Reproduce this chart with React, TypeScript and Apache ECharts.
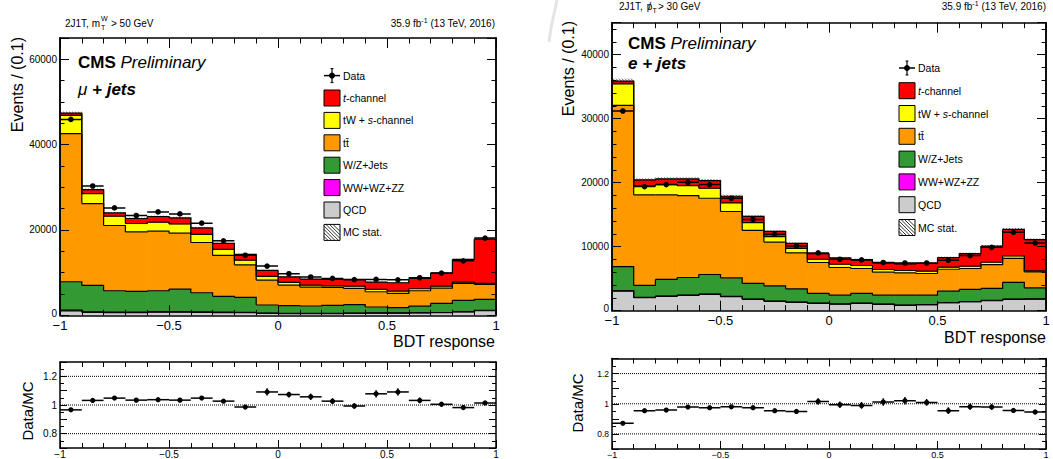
import { useEffect, useRef } from 'react';
import * as echarts from 'echarts';

const FONT = '"Liberation Sans", Arial, Helvetica, sans-serif';

// ---------- bins ----------
const binLow = [-1.0, -0.9, -0.8, -0.7, -0.6, -0.5, -0.4, -0.3, -0.2, -0.1, 0.0, 0.1, 0.2, 0.3, 0.4, 0.5, 0.6, 0.7, 0.8, 0.9];
const binHigh = [-0.9, -0.8, -0.7, -0.6, -0.5, -0.4, -0.3, -0.2, -0.1, 0.0, 0.1, 0.2, 0.3, 0.4, 0.5, 0.6, 0.7, 0.8, 0.9, 1.0];

// stack order bottom -> top
const processNames = ['QCD', 'WW+WZ+ZZ', 'W/Z+Jets', 'tt\u0304', 'tW + s-channel', 't-channel'];
const processColors = ['#cccccc', '#ff00ff', '#339933', '#ff9900', '#ffff00', '#ff0000'];

// ---------- mu + jets ----------
const muQCD = [1050, 700, 650, 650, 750, 750, 700, 650, 600, 450, 400, 400, 400, 450, 500, 500, 550, 600, 800, 1100];
const muVV = [150, 120, 110, 110, 110, 110, 100, 90, 80, 60, 50, 50, 50, 50, 50, 50, 50, 60, 60, 70];
const muWZ = [6660, 6200, 5000, 4850, 4900, 5290, 4490, 3700, 3530, 1900, 1800, 1730, 1890, 1990, 1390, 1230, 1570, 2150, 2650, 2570];
const muTT = [34710, 19180, 15290, 13940, 13960, 13100, 11780, 9590, 7630, 5850, 4840, 4440, 4210, 3820, 3580, 3370, 3580, 3580, 3980, 3510];
const muTW = [4280, 2340, 2180, 1970, 2100, 2180, 1880, 1410, 1090, 860, 630, 470, 370, 540, 560, 530, 470, 460, 300, 240];
const muTch = [540, 930, 770, 1170, 1340, 1400, 1540, 1400, 1340, 1410, 1310, 1400, 1500, 1570, 1710, 1950, 2430, 3040, 5310, 10360];
const muMCStat = [350, 250, 200, 200, 200, 200, 180, 160, 140, 120, 110, 100, 100, 100, 100, 100, 110, 120, 150, 200];
const muData = [45920, 30310, 25170, 23390, 24230, 23770, 21590, 17450, 14070, 11530, 9730, 8970, 8650, 8360, 8420, 8320, 8800, 9890, 12770, 18100];
const muRatio = [0.966, 1.032, 1.048, 1.034, 1.037, 1.034, 1.048, 1.027, 0.986, 1.091, 1.073, 1.057, 1.027, 0.993, 1.078, 1.091, 1.032, 1.005, 0.982, 1.014];
const muRatioErr = [0.005, 0.006, 0.006, 0.006, 0.006, 0.006, 0.007, 0.008, 0.01, 0.025, 0.02, 0.022, 0.02, 0.02, 0.025, 0.025, 0.02, 0.018, 0.015, 0.008];

// ---------- e + jets ----------
const eQCD = [3060, 2020, 2240, 2390, 2550, 2180, 1770, 1460, 1310, 1150, 1040, 1150, 990, 840, 930, 1240, 1400, 1560, 1770, 1820];
const eVV = [100, 60, 60, 60, 60, 60, 50, 50, 40, 40, 30, 30, 30, 30, 30, 30, 30, 40, 40, 40];
const eWZ = [3740, 1870, 2580, 2740, 3050, 2890, 2440, 2380, 2070, 1520, 1370, 1530, 1420, 1570, 1480, 1790, 1900, 1880, 2610, 1720];
const eTT = [25190, 14150, 13220, 12800, 11910, 10370, 8290, 6840, 5600, 4820, 4310, 3880, 3580, 3470, 3370, 3420, 3260, 3730, 3770, 2480];
const eTW = [3360, 1450, 1600, 1560, 1560, 1360, 1200, 840, 730, 510, 510, 470, 420, 370, 360, 320, 360, 360, 360, 160];
const eTch = [420, 880, 890, 1040, 1190, 1020, 980, 820, 780, 860, 980, 930, 1020, 1040, 1230, 1500, 1980, 2540, 4150, 4880];
const eMCStat = [400, 250, 250, 250, 250, 230, 200, 180, 160, 150, 140, 140, 130, 130, 130, 140, 150, 160, 200, 200];
const eData = [31210, 19390, 19700, 20060, 19700, 17570, 14260, 11930, 10110, 9030, 8040, 7930, 7530, 7460, 7460, 7880, 8610, 9900, 12240, 10570];
const eRatio = [0.870, 0.954, 0.958, 0.978, 0.974, 0.980, 0.974, 0.954, 0.949, 1.015, 0.993, 0.989, 1.011, 1.020, 1.009, 0.954, 0.980, 0.978, 0.956, 0.945];
const eRatioErr = [0.006, 0.008, 0.008, 0.008, 0.008, 0.01, 0.012, 0.012, 0.015, 0.022, 0.022, 0.022, 0.025, 0.025, 0.022, 0.022, 0.02, 0.018, 0.015, 0.015];

const ratioGridLines = [0.8, 1.0, 1.2];
const ratioLabels = [0.8, 1.0, 1.2];

function cumulate(layers: number[][]): number[][] {
  return layers[0].map((_, i) => {
    const out = [0];
    let s = 0;
    for (const l of layers) {
      s += l[i];
      out.push(s);
    }
    return out;
  });
}

function stackSeries(xi: number, yi: number, layers: number[][], mcStat: number[], data: number[]) {
  const cum = cumulate(layers);
  const nL = layers.length;
  const fill = {
    type: 'custom', xAxisIndex: xi, yAxisIndex: yi, z: 2, silent: true, clip: true,
    encode: { x: [0, 1], y: [2, 2 + nL] },
    data: cum.map((c, i) => [binLow[i], binHigh[i], ...c]),
    renderItem: (_p: any, api: any) => {
      const lo = api.value(0), hi = api.value(1);
      const children: any[] = [];
      for (let k = 0; k < nL; k++) {
        const p0 = api.coord([lo, api.value(2 + k)]);
        const p1 = api.coord([hi, api.value(3 + k)]);
        const h = p0[1] - p1[1];
        if (h <= 0) continue;
        children.push({
          type: 'rect',
          shape: { x: p0[0], y: p1[1], width: p1[0] - p0[0] + 0.6, height: h + 0.3 },
          style: { fill: processColors[k] },
        });
      }
      return { type: 'group', children };
    },
  };
  const hatch = {
    type: 'custom', xAxisIndex: xi, yAxisIndex: yi, z: 3, silent: true, clip: true,
    encode: { x: [0, 1], y: [2] },
    data: cum.map((c, i) => [binLow[i], binHigh[i], c[nL], mcStat[i]]),
    renderItem: (_p: any, api: any) => {
      const lo = api.value(0), hi = api.value(1), tot = api.value(2), e = api.value(3);
      const a = api.coord([lo, tot + e]);
      const b = api.coord([hi, tot - e]);
      const xL = a[0], xR = b[0], yT = a[1], yB = b[1];
      const h = yB - yT;
      const children: any[] = [];
      for (let x = xL - h; x < xR; x += 3) {
        let x1 = x, y1 = yT, x2 = x + h, y2 = yB;
        if (x1 < xL) { y1 = yT + (xL - x1); x1 = xL; }
        if (x2 > xR) { y2 = yB - (x2 - xR); x2 = xR; }
        if (x2 > x1) children.push({ type: 'line', shape: { x1, y1, x2, y2 }, style: { stroke: '#222', lineWidth: 0.7 } });
      }
      return { type: 'group', children };
    },
  };
  const outline = {
    type: 'custom', xAxisIndex: xi, yAxisIndex: yi, z: 4, silent: true, clip: true,
    encode: { x: [0, 1], y: [2] },
    data: cum.map((c, i) => [binLow[i], binHigh[i], ...c.slice(1), ...(cum[i + 1] ?? c).slice(1)]),
    renderItem: (_p: any, api: any) => {
      const lo = api.value(0), hi = api.value(1);
      const children: any[] = [];
      for (let k = 0; k < nL; k++) {
        const t = api.value(2 + k), nx = api.value(2 + nL + k);
        const pa = api.coord([lo, t]);
        const pb = api.coord([hi, t]);
        const pn = api.coord([hi, nx]);
        children.push({
          type: 'polyline',
          shape: { points: [pa, pb, pn] },
          style: { stroke: '#000', lineWidth: 1.2, fill: 'none' },
        });
      }
      return { type: 'group', children };
    },
  };
  const points = {
    type: 'custom', xAxisIndex: xi, yAxisIndex: yi, z: 6, silent: true, clip: true,
    encode: { x: [0, 1], y: [2] },
    data: data.map((v, i) => [binLow[i], binHigh[i], v]),
    renderItem: (_p: any, api: any) => {
      const lo = api.value(0), hi = api.value(1), v = api.value(2);
      const pl = api.coord([lo, v]);
      const pr = api.coord([hi, v]);
      const c = api.coord([(lo + hi) / 2, v]);
      return {
        type: 'group',
        children: [
          { type: 'line', shape: { x1: pl[0], y1: pl[1], x2: pr[0], y2: pr[1] }, style: { stroke: '#000', lineWidth: 1.5 } },
          { type: 'circle', shape: { cx: c[0], cy: c[1], r: 2.8 }, style: { fill: '#000' } },
        ],
      };
    },
  };
  return [fill, hatch, outline, points];
}

function ratioSeries(xi: number, yi: number, ratio: number[], err: number[]) {
  const lines = ratioGridLines.map((v) => ({
    type: 'line', xAxisIndex: xi, yAxisIndex: yi, z: 3, silent: true, symbol: 'none',
    data: [[-1, v], [1, v]],
    lineStyle: { color: '#000', width: 1, type: 'dotted' },
  }));
  const pts = {
    type: 'custom', xAxisIndex: xi, yAxisIndex: yi, z: 6, silent: true, clip: true,
    encode: { x: [0, 1], y: [2] },
    data: ratio.map((v, i) => [binLow[i], binHigh[i], v, err[i]]),
    renderItem: (_p: any, api: any) => {
      const lo = api.value(0), hi = api.value(1), v = api.value(2), e = api.value(3);
      const mid = (lo + hi) / 2;
      const pl = api.coord([lo, v]);
      const pr = api.coord([hi, v]);
      const c = api.coord([mid, v]);
      const up = api.coord([mid, v + e]);
      const dn = api.coord([mid, v - e]);
      return {
        type: 'group',
        children: [
          { type: 'line', shape: { x1: pl[0], y1: pl[1], x2: pr[0], y2: pr[1] }, style: { stroke: '#000', lineWidth: 1.5 } },
          { type: 'line', shape: { x1: up[0], y1: up[1], x2: dn[0], y2: dn[1] }, style: { stroke: '#000', lineWidth: 1.5 } },
          { type: 'circle', shape: { cx: c[0], cy: c[1], r: 2.6 }, style: { fill: '#000' } },
        ],
      };
    },
  };
  return [...lines, pts];
}

const fmtX = (v: number) => String(Math.round(v * 10) / 10).replace('-', '\u2212');

function xAxisPair(grid: number, labelSize: number, labelMargin: number, majorLen: number, minorLen: number) {
  const base: any = {
    type: 'value', gridIndex: grid, min: -1, max: 1, interval: 0.5, z: 10,
    axisLine: { show: true, onZero: false, lineStyle: { color: '#000', width: 1.5 } },
    axisTick: { show: true, inside: true, length: majorLen, lineStyle: { color: '#000', width: 1 } },
    minorTick: { show: true, splitNumber: 5, length: minorLen, lineStyle: { color: '#000', width: 1 } },
    splitLine: { show: false }, minorSplitLine: { show: false },
  };
  return [
    {
      ...base, position: 'bottom',
      axisLabel: { show: true, fontSize: labelSize, lineHeight: labelSize - 2, fontFamily: FONT, color: '#000', margin: labelMargin, formatter: fmtX },
    },
    { ...base, position: 'top', axisLabel: { show: false } },
  ];
}

function mainYAxes(grid: number, max: number, major: number, minor: number, labelSize: number) {
  const line = { show: true, onZero: false, lineStyle: { color: '#000', width: 1.5 } };
  const minorBase: any = {
    type: 'value', gridIndex: grid, min: 0, max, interval: minor, z: 10,
    axisLine: line,
    axisTick: { show: true, inside: true, length: 4.5, lineStyle: { color: '#000', width: 1 } },
    splitLine: { show: false },
  };
  const majorBase: any = {
    type: 'value', gridIndex: grid, min: 0, max, interval: major, z: 10,
    axisLine: line,
    axisTick: { show: true, inside: true, length: 9, lineStyle: { color: '#000', width: 1 } },
    axisLabel: { show: false },
    splitLine: { show: false },
  };
  return [
    {
      ...minorBase, position: 'left',
      axisLabel: {
        show: true, fontSize: labelSize, lineHeight: labelSize - 1, fontFamily: FONT, color: '#000', margin: 3,
        formatter: (v: number) => (v === 0 ? '{z|0}' : v % major === 0 ? String(v) : ''),
        rich: { z: { fontSize: labelSize, fontFamily: FONT, color: '#000', lineHeight: labelSize - 1, padding: [0, 0, 4, 0] } },
      },
    },
    { ...minorBase, position: 'right', axisLabel: { show: false } },
    { ...majorBase, position: 'left' },
    { ...majorBase, position: 'right' },
  ];
}

function ratioYAxes(grid: number, labelSize: number) {
  const base: any = {
    type: 'value', gridIndex: grid, min: 0.7, max: 1.3, interval: 0.1, z: 10,
    axisLine: { show: true, onZero: false, lineStyle: { color: '#000', width: 1.5 } },
    axisTick: { show: true, inside: true, length: 7, lineStyle: { color: '#000', width: 1 } },
    minorTick: { show: true, splitNumber: 2, length: 4, lineStyle: { color: '#000', width: 1 } },
    splitLine: { show: false },
  };
  return [
    {
      ...base, position: 'left',
      axisLabel: {
        show: true, fontSize: labelSize, fontFamily: FONT, color: '#000', margin: 3,
        formatter: (v: number) => {
          const r = Math.round(v * 10) / 10;
          return ratioLabels.some((l) => Math.abs(l - r) < 1e-6) ? String(r) : '';
        },
      },
    },
    { ...base, position: 'right', axisLabel: { show: false } },
  ];
}

function txt(x: number, y: number, text: string, size: number, opts: any = {}) {
  return {
    type: 'text', x, y, silent: true, rotation: opts.rotation ?? 0,
    style: {
      text, fontSize: size, fontFamily: FONT, fill: '#000',
      fontWeight: opts.weight ?? 'normal', fontStyle: opts.style ?? 'normal',
      align: opts.align ?? 'left', verticalAlign: 'middle', rich: opts.rich,
    },
  };
}

function legend(x0: number, ys: number[], size: number) {
  const els: any[] = [];
  // Data
  const yd = ys[0];
  els.push({ type: 'line', shape: { x1: x0, y1: yd, x2: x0 + 16, y2: yd }, style: { stroke: '#000', lineWidth: 1.5 }, silent: true });
  els.push({ type: 'line', shape: { x1: x0 + 8, y1: yd - 7, x2: x0 + 8, y2: yd + 7 }, style: { stroke: '#000', lineWidth: 1.2 }, silent: true });
  els.push({ type: 'line', shape: { x1: x0 + 6.5, y1: yd - 7, x2: x0 + 9.5, y2: yd - 7 }, style: { stroke: '#000', lineWidth: 1 }, silent: true });
  els.push({ type: 'line', shape: { x1: x0 + 6.5, y1: yd + 7, x2: x0 + 9.5, y2: yd + 7 }, style: { stroke: '#000', lineWidth: 1 }, silent: true });
  els.push({ type: 'circle', shape: { cx: x0 + 8, cy: yd, r: 3 }, style: { fill: '#000' }, silent: true });
  els.push(txt(x0 + 19, yd, 'Data', size));
  const rich = { i: { fontStyle: 'italic', fontSize: size, fontFamily: FONT } };
  const labels = ['{i|t}-channel', 'tW + {i|s}-channel', 'tt\u0304', 'W/Z+Jets', 'WW+WZ+ZZ', 'QCD'];
  const colIdx = [5, 4, 3, 2, 1, 0];
  labels.forEach((lab, j) => {
    const y = ys[j + 1];
    els.push({ type: 'rect', shape: { x: x0, y: y - 8, width: 16, height: 16 }, style: { fill: processColors[colIdx[j]], stroke: '#000', lineWidth: 1 }, silent: true });
    els.push(txt(x0 + 19, y, lab, size, { rich }));
  });
  // MC stat
  const ym = ys[7];
  els.push({ type: 'rect', shape: { x: x0, y: ym - 8, width: 16, height: 16 }, style: { fill: '#fff', stroke: '#000', lineWidth: 1 }, silent: true });
  for (let d = -12; d <= 12; d += 3.5) {
    let x1 = x0 + d, y1 = ym - 8, x2 = x0 + d + 16, y2 = ym + 8;
    if (x1 < x0) { y1 += x0 - x1; x1 = x0; }
    if (x2 > x0 + 16) { y2 -= x2 - (x0 + 16); x2 = x0 + 16; }
    if (x2 > x1) els.push({ type: 'line', shape: { x1, y1, x2, y2 }, style: { stroke: '#000', lineWidth: 0.8 }, silent: true });
  }
  els.push(txt(x0 + 19, ym, 'MC stat.', size));
  return els;
}

export default function App() {
  const ref = useRef<HTMLDivElement>(null);
  useEffect(() => {
    document.body.style.margin = '0';
    const chart = echarts.init(ref.current!, undefined, { renderer: 'svg' });
    const lumiRich = {
      n: { fontSize: 10, fontFamily: FONT, lineHeight: 12 },
      s: { fontSize: 7, fontFamily: FONT, lineHeight: 12, verticalAlign: 'top' },
    };
    const cmsRich = {
      b: { fontSize: 17, fontFamily: FONT, fontWeight: 'bold' },
      i: { fontSize: 17, fontFamily: FONT, fontStyle: 'italic' },
      m: { fontSize: 17, fontFamily: FONT, fontStyle: 'italic' },
      bi: { fontSize: 17, fontFamily: FONT, fontStyle: 'italic', fontWeight: 'bold' },
    };
    const graphics: any[] = [
      { type: 'polyline', shape: { points: [[557, 0], [554, 14], [551, 28], [549, 42]] }, style: { stroke: '#e4e4e4', lineWidth: 3, fill: 'none' }, silent: true },
      // left panel header
      txt(65, 23, '2J1T, m', 10),
      txt(101, 18.5, 'W', 7),
      txt(101, 27, 'T', 7),
      txt(111, 23, '> 50 GeV', 10),
      txt(495, 23, '{n|35.9 fb}{s|-1}{n| (13 TeV, 2016)}', 10, { align: 'right', rich: lumiRich }),
      txt(78, 62, '{b|CMS} {i|Preliminary}', 17, { rich: cmsRich }),
      txt(78, 89, '{m|\u03bc} {bi|+ jets}', 17, { rich: cmsRich }),
      txt(17, 37, 'Events / (0.1)', 16, { rotation: Math.PI / 2, align: 'right' }),
      txt(495, 341, 'BDT response', 16, { align: 'right' }),
      txt(27, 411, 'Data/MC', 15, { rotation: Math.PI / 2, align: 'center' }),
      // right panel header
      txt(619, 6, '2J1T, ', 10),
      txt(646.8, 6, 'p', 10),
      txt(649.6, 6, '/', 10, { align: 'center' }),
      txt(652.5, 10, 'T', 7),
      txt(658, 6, '> 30 GeV', 10),
      txt(1046, 6, '{n|35.9 fb}{s|-1}{n| (13 TeV, 2016)}', 10, { align: 'right', rich: lumiRich }),
      txt(628, 43, '{b|CMS} {i|Preliminary}', 17, { rich: cmsRich }),
      txt(628, 63, '{bi|e + jets}', 17, { rich: cmsRich }),
      txt(568, 21, 'Events / (0.1)', 16, { rotation: Math.PI / 2, align: 'right' }),
      txt(1046, 337.5, 'BDT response', 16, { align: 'right' }),
      txt(577, 403, 'Data/MC', 15, { rotation: Math.PI / 2, align: 'center' }),
      ...legend(324, [75.6, 98, 120.4, 142.8, 165.2, 187.6, 210, 232.4], 10.5),
      ...legend(899, [68, 90.7, 113.5, 136.3, 159.1, 181.9, 204.7, 227.5], 10.5),
    ];

    const option: any = {
      animation: false,
      grid: [
        { left: 60, top: 38, width: 436, height: 277.3 },
        { left: 60, top: 362, width: 436, height: 87.5 },
        { left: 612, top: 22.7, width: 434, height: 288 },
        { left: 612, top: 358.5, width: 434, height: 91 },
      ],
      xAxis: [
        ...xAxisPair(0, 13, 5, 10, 5.5),
        ...xAxisPair(1, 10, 2, 8, 5),
        ...xAxisPair(2, 13, 4.5, 10, 5.5),
        ...xAxisPair(3, 9, 2, 8, 5),
      ],
      yAxis: [
        ...mainYAxes(0, 65000, 20000, 5000, 10),
        ...ratioYAxes(1, 10),
        ...mainYAxes(2, 45000, 10000, 2000, 10),
        ...ratioYAxes(3, 8.5),
      ],
      series: [
        ...stackSeries(0, 0, [muQCD, muVV, muWZ, muTT, muTW, muTch], muMCStat, muData),
        ...ratioSeries(2, 4, muRatio, muRatioErr),
        ...stackSeries(4, 6, [eQCD, eVV, eWZ, eTT, eTW, eTch], eMCStat, eData),
        ...ratioSeries(6, 10, eRatio, eRatioErr),
      ],
      graphic: { elements: graphics },
    };
    chart.setOption(option);
    return () => chart.dispose();
  }, []);
  return <div ref={ref} style={{ width: 1053, height: 459 }} />;
}
